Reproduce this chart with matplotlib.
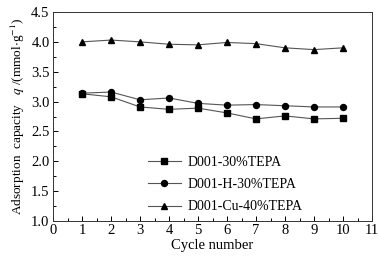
import matplotlib
matplotlib.use('Agg')
from matplotlib import pyplot as plt
from matplotlib.ticker import MultipleLocator

plt.rcParams['font.family'] = ['Liberation Serif', 'DejaVu Serif']
plt.rcParams['mathtext.fontset'] = 'stix'

cycles = [1, 2, 3, 4, 5, 6, 7, 8, 9, 10]
d001 = [3.13, 3.08, 2.91, 2.87, 2.89, 2.81, 2.71, 2.76, 2.71, 2.72]
d001_h = [3.14, 3.16, 3.03, 3.06, 2.97, 2.94, 2.95, 2.93, 2.91, 2.91]
d001_cu = [4.00, 4.03, 4.00, 3.96, 3.95, 3.99, 3.97, 3.90, 3.87, 3.90]
labels = ['D001-30%TEPA', 'D001-H-30%TEPA', 'D001-Cu-40%TEPA']

fig = plt.figure(figsize=(3.79, 2.57), dpi=100)
ax = fig.add_axes([53 / 379, 1 - 221 / 257, 319 / 379, 209 / 257])

lc = '#555555'
ax.plot(cycles, d001, color=lc, lw=0.8, marker='s', ms=4.3, mfc='black', mec='black', label=labels[0])
ax.plot(cycles, d001_h, color=lc, lw=0.8, marker='o', ms=4.3, mfc='black', mec='black', label=labels[1])
ax.plot(cycles, d001_cu, color=lc, lw=0.8, marker='^', ms=4.3, mfc='black', mec='black', label=labels[2])

ax.set_xlim(0, 11)
ax.set_ylim(1.0, 4.5)
ax.xaxis.set_major_locator(MultipleLocator(1))
ax.xaxis.set_minor_locator(MultipleLocator(0.5))
ax.yaxis.set_major_locator(MultipleLocator(0.5))
ax.yaxis.set_minor_locator(MultipleLocator(0.25))
ax.tick_params(which='both', direction='in', labelsize=10.5, width=0.7, top=False, right=False, pad=2.5)
ax.tick_params(which='major', length=3.5)
ax.tick_params(which='minor', length=2)
ax.yaxis.set_major_formatter(matplotlib.ticker.FormatStrFormatter('%.1f'))
for s in ax.spines.values():
    s.set_linewidth(0.7)
    s.set_color('#333333')

ax.set_xlabel('Cycle number', fontsize=10.5, labelpad=1)
ax.set_ylabel('Adsorption  capacity   $q$ /(mmol$\\cdot$g$^{-1}$)', fontsize=9.5, labelpad=3)

ax.legend(loc='lower center', bbox_to_anchor=(0.54, -0.01), frameon=False, fontsize=10,
          handlelength=2.4, labelspacing=0.65, borderaxespad=0.3, handletextpad=0.5)

plt.savefig('out.png', dpi=100)
